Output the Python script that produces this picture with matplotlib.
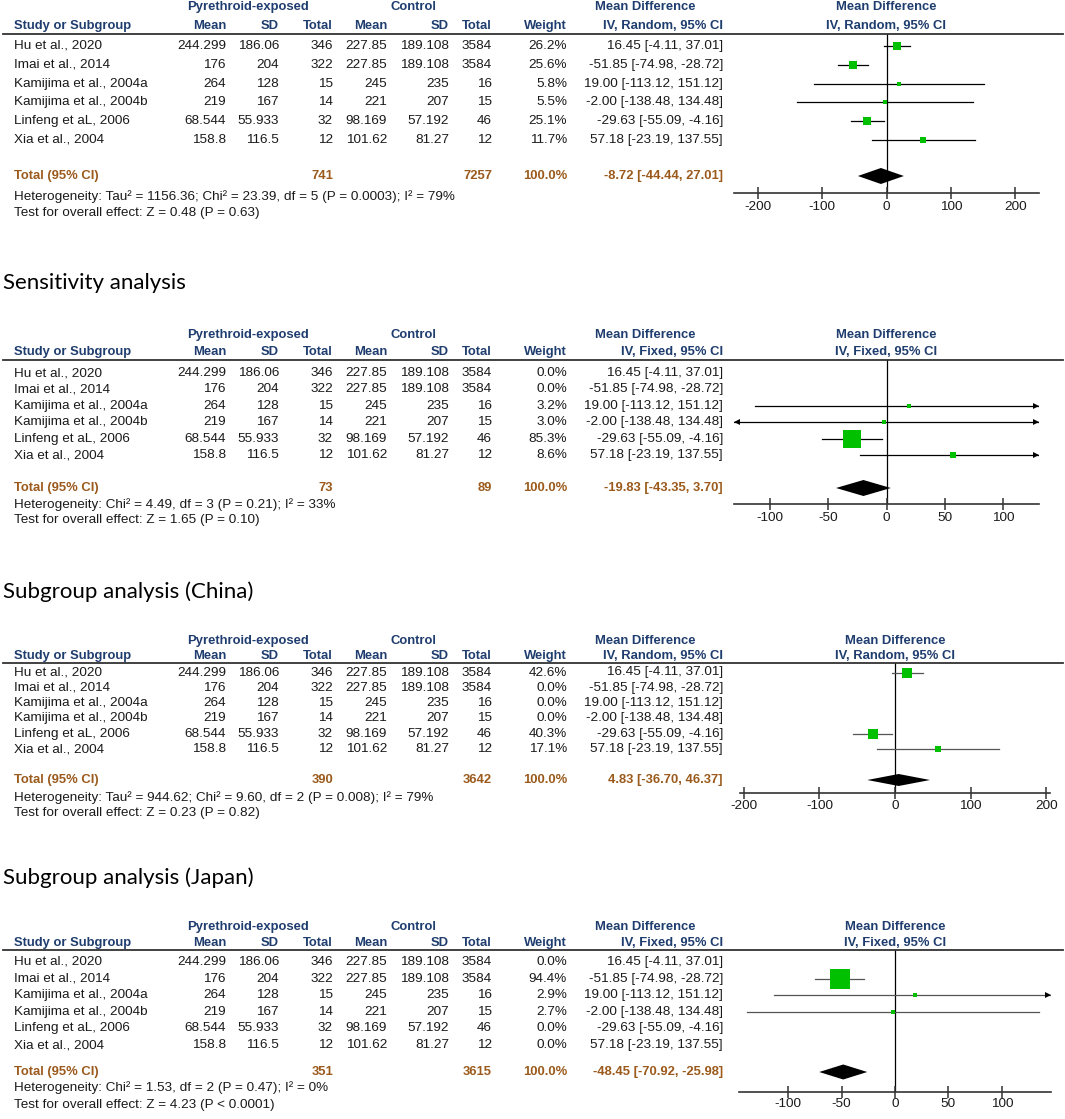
import numpy as np
import matplotlib
matplotlib.use("Agg")
import matplotlib.pyplot as plt
import matplotlib.transforms as mtransforms
from matplotlib.lines import Line2D

# ---- data -------------------------------------------------------------
studies = ["Hu et al., 2020", "Imai et al., 2014", "Kamijima et al., 2004a",
           "Kamijima et al., 2004b", "Linfeng et aL, 2006", "Xia et al., 2004"]
exp_mean = ["244.299", "176", "264", "219", "68.544", "158.8"]
exp_sd = ["186.06", "204", "128", "167", "55.933", "116.5"]
exp_n = [346, 322, 15, 14, 32, 12]
ctl_mean = ["227.85", "227.85", "245", "221", "98.169", "101.62"]
ctl_sd = ["189.108", "189.108", "235", "207", "57.192", "81.27"]
ctl_n = [3584, 3584, 16, 15, 46, 12]

md = [16.45, -51.85, 19.00, -2.00, -29.63, 57.18]
md_lo = [-4.11, -74.98, -113.12, -138.48, -55.09, -23.19]
md_hi = [37.01, -28.72, 151.12, 134.48, -4.16, 137.55]

titles = ["", "Sensitivity analysis", "Subgroup analysis (China)", "Subgroup analysis (Japan)"]
methods = ["Random", "Fixed", "Random", "Fixed"]
weights = [
    [26.2, 25.6, 5.8, 5.5, 25.1, 11.7],
    [0.0, 0.0, 3.2, 3.0, 85.3, 8.6],
    [42.6, 0.0, 0.0, 0.0, 40.3, 17.1],
    [0.0, 94.4, 2.9, 2.7, 0.0, 0.0],
]
tot_exp = [741, 73, 390, 351]
tot_ctl = [7257, 89, 3642, 3615]
pooled = [-8.72, -19.83, 4.83, -48.45]
pooled_lo = [-44.44, -43.35, -36.70, -70.92]
pooled_hi = [27.01, 3.70, 46.37, -25.98]
het_text = [
    "Heterogeneity: Tau² = 1156.36; Chi² = 23.39, df = 5 (P = 0.0003); I² = 79%",
    "Heterogeneity: Chi² = 4.49, df = 3 (P = 0.21); I² = 33%",
    "Heterogeneity: Tau² = 944.62; Chi² = 9.60, df = 2 (P = 0.008); I² = 79%",
    "Heterogeneity: Chi² = 1.53, df = 2 (P = 0.47); I² = 0%",
]
test_text = [
    "Test for overall effect: Z = 0.48 (P = 0.63)",
    "Test for overall effect: Z = 1.65 (P = 0.10)",
    "Test for overall effect: Z = 0.23 (P = 0.82)",
    "Test for overall effect: Z = 4.23 (P < 0.0001)",
]
ticks = [[-200, -100, 0, 100, 200], [-100, -50, 0, 50, 100],
         [-200, -100, 0, 100, 200], [-100, -50, 0, 50, 100]]
xlims = [237, 131, 205, 146]

# ---- layout (pixel positions) ----------------------------------------
layout = [
    dict(title=None, ghdr=7, chdr=26, line=34, row0=46, step=18.8, total=176, het=197,
         test=213, axis=193, px0=734, px1=1039, half=8, k=1.6, ci="black", pad=1.5),
    dict(title=283, ghdr=335, chdr=352, line=360, row0=373, step=16.4, total=488, het=505,
         test=520, axis=504, px0=734, px1=1039, half=8, k=1.85, ci="black", pad=1.0),
    dict(title=592, ghdr=641, chdr=656, line=663, row0=672.5, step=15.3, total=780, het=798,
         test=813, axis=793, px0=740, px1=1050, half=6, k=1.55, ci="#555555", pad=0.5),
    dict(title=878, ghdr=927, chdr=943, line=950, row0=962, step=16.6, total=1072, het=1088,
         test=1105, axis=1092, px0=739, px1=1051, half=7.5, k=2.0, ci="#555555", pad=0.0),
]

W, H = 1065, 1119
HDR = "#1f3d6e"
TOT = "#9b5a1c"
TXT = "#1a1a1a"
GREEN = "#00c000"
FS = 9.7
FSB = 9.4
plt.rcParams["font.family"] = ["Liberation Sans", "DejaVu Sans"]

fig = plt.figure(figsize=(W / 100, H / 100), dpi=100)


def fx(x):
    return x / W


def fy(y):
    return 1 - y / H


# column right edges
col_x = [226, 279, 333, 387, 449, 492, 567, 723]

for p in range(4):
    L = layout[p]
    lim = xlims[p]
    ax = fig.add_axes([fx(L["px0"]), fy(L["axis"]), (L["px1"] - L["px0"]) / W,
                       (L["axis"] - L["line"]) / H])
    ax.set_xlim(-lim, lim)
    y0, st = L["row0"], L["step"]
    ax.set_ylim((L["axis"] - y0) / st, (L["line"] - y0) / st)
    row = lambda ypix: (ypix - y0) / st
    tr = mtransforms.blended_transform_factory(fig.transFigure, ax.transData)

    def put(x, ypix, s, ha="right", bold=False, color=TXT):
        ax.text(fx(x), row(ypix), s, transform=tr, ha=ha, va="center",
                fontsize=FSB if bold else FS,
                fontweight="bold" if bold else "normal", color=color, clip_on=False)

    if L["title"] is not None:
        fig.text(fx(3), fy(L["title"]), titles[p], fontsize=16, family="Lato",
                 ha="left", va="center", color="black")

    # headers
    plot_c = (L["px0"] + L["px1"]) / 2
    put(248, L["ghdr"], "Pyrethroid-exposed", ha="center", bold=True, color=HDR)
    put(413, L["ghdr"], "Control", ha="center", bold=True, color=HDR)
    put(645, L["ghdr"], "Mean Difference", ha="center", bold=True, color=HDR)
    put(plot_c, L["ghdr"], "Mean Difference", ha="center", bold=True, color=HDR)
    put(14, L["chdr"], "Study or Subgroup", ha="left", bold=True, color=HDR)
    for x, s in zip(col_x, ["Mean", "SD", "Total", "Mean", "SD", "Total", "Weight",
                            "IV, %s, 95%% CI" % methods[p]]):
        put(x, L["chdr"], s, bold=True, color=HDR)
    put(plot_c, L["chdr"], "IV, %s, 95%% CI" % methods[p], ha="center", bold=True, color=HDR)
    fig.add_artist(Line2D([fx(3), fx(1063)], [fy(L["line"]), fy(L["line"])],
                          color="#333333", lw=1.3))

    # study rows
    for i in range(len(studies)):
        ypix = y0 + i * st
        put(14, ypix, studies[i], ha="left")
        vals = [exp_mean[i], exp_sd[i], str(exp_n[i]), ctl_mean[i], ctl_sd[i],
                str(ctl_n[i]), "%.1f%%" % weights[p][i],
                "%.2f [%.2f, %.2f]" % (md[i], md_lo[i], md_hi[i])]
        for x, s in zip(col_x, vals):
            put(x, ypix, s)
        w = weights[p][i]
        if w <= 0:
            continue
        ax.plot([md_lo[i], md_hi[i]], [i, i], color=L["ci"], lw=0.9, zorder=2)
        side = max(L["k"] * np.sqrt(w), 2.5)
        ax.plot(md[i], i, marker="s", ms=side * 0.72, color=GREEN, mec=GREEN,
                mew=0, zorder=3)
        if md_hi[i] > lim:
            ax.plot(lim - 2.5 * lim / 150, i, marker=">", ms=4.5, color="black",
                    mew=0, clip_on=False, zorder=4)
        if md_lo[i] < -lim:
            ax.plot(-lim + 2.5 * lim / 150, i, marker="<", ms=4.5, color="black",
                    mew=0, clip_on=False, zorder=4)

    # total row
    rt = row(L["total"])
    put(14, L["total"], "Total (95% CI)", ha="left", bold=True, color=TOT)
    put(col_x[2], L["total"], str(tot_exp[p]), bold=True, color=TOT)
    put(col_x[5], L["total"], str(tot_ctl[p]), bold=True, color=TOT)
    put(col_x[6], L["total"], "100.0%", bold=True, color=TOT)
    put(col_x[7], L["total"], "%.2f [%.2f, %.2f]" % (pooled[p], pooled_lo[p], pooled_hi[p]),
        bold=True, color=TOT)
    hh = L["half"] / st
    ax.fill([pooled_lo[p], pooled[p], pooled_hi[p], pooled[p]],
            [rt, rt - hh, rt, rt + hh], color="black", lw=0, zorder=3)

    put(14, L["het"], het_text[p], ha="left")
    put(14, L["test"], test_text[p], ha="left")

    # axis
    ax.axvline(0, color="black", lw=0.9, zorder=1)
    for s in ["top", "left", "right"]:
        ax.spines[s].set_visible(False)
    ax.spines["bottom"].set_color("#333333")
    ax.spines["bottom"].set_linewidth(1.2)
    ax.set_yticks([])
    ax.set_xticks(ticks[p])
    ax.set_xticklabels([str(t) for t in ticks[p]])
    ax.tick_params(axis="x", direction="inout", length=9, width=1.1, color="#333333",
                   labelsize=FS, labelcolor=TXT, pad=L["pad"])
    ax.patch.set_alpha(0)

fig.savefig("out.png", dpi=100)
